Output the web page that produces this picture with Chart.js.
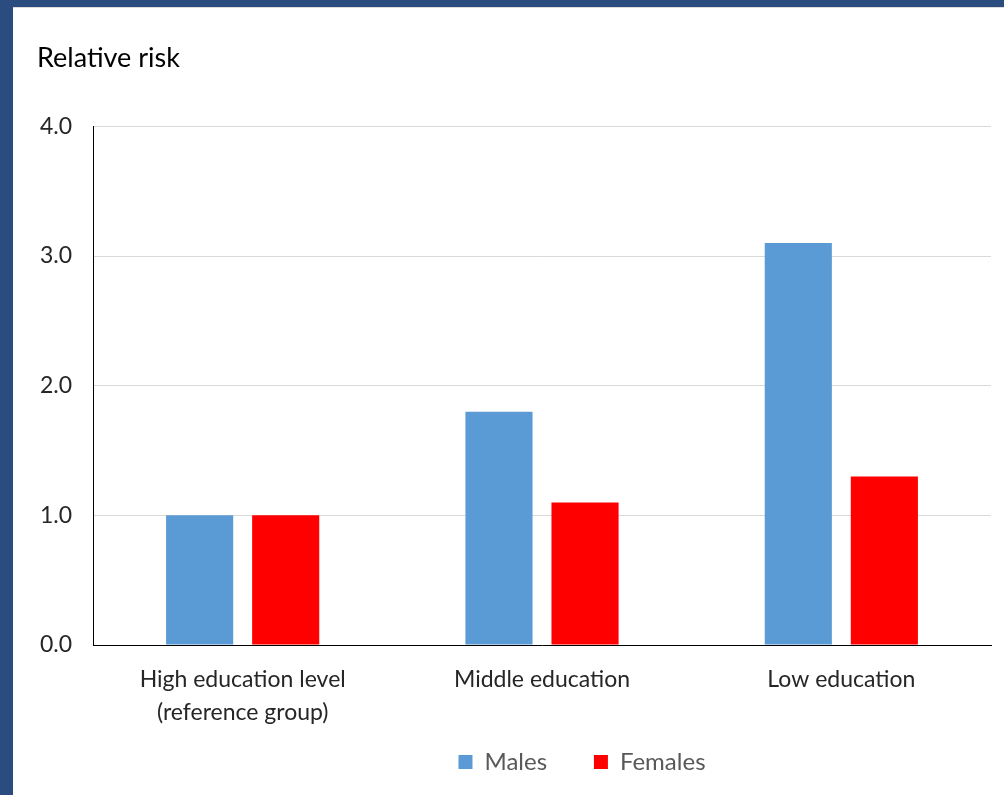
<!DOCTYPE html>
<html>
<head>
<meta charset="utf-8">
<script src="https://cdn.jsdelivr.net/npm/chart.js@4.4.1/dist/chart.umd.min.js"></script>
<style>
  html, body { margin: 0; padding: 0; }
  body { width: 1004px; height: 795px; background: #2b4c7e; position: relative; overflow: hidden; }
  #panel { position: absolute; left: 13px; top: 7px; width: 991px; height: 788px; background: #fff; border-top: 1px solid #dcdcdc; box-sizing: border-box; }
  #chart { display: block; }
</style>
</head>
<body>
<div id="panel"><canvas id="chart" width="991" height="787"></canvas></div>
<script>
// Chart values
const categories = [['High education level', '(reference group)'], 'Middle education', 'Low education'];
const males = [1.0, 1.8, 3.1];
const females = [1.0, 1.1, 1.3];
const yTicks = [0, 1, 2, 3, 4];

const textFont = "Lato, 'Open Sans', sans-serif";

// legend in the original sits a bit right of the canvas centre
const legendShift = {
    id: 'legendShift',
    afterLayout(chart) {
        const lg = chart.legend;
        if (!lg) return;
        lg.left += 68;
        lg.right += 68;
    }
};

const ctx = document.getElementById('chart').getContext('2d');
new Chart(ctx, {
    type: 'bar',
    data: {
        labels: categories,
        datasets: [
            { label: 'Males', data: males, backgroundColor: '#5b9bd5' },
            { label: 'Females', data: females, backgroundColor: '#ff0000' }
        ]
    },
    plugins: [legendShift],
    options: {
        responsive: false,
        animation: false,
        categoryPercentage: 0.575,
        barPercentage: 0.78,
        layout: { padding: { left: 24, right: 13, top: 0, bottom: 11 } },
        scales: {
            x: {
                grid: { display: false, drawTicks: false },
                border: { display: true, color: '#000', width: 1 },
                ticks: {
                    color: '#262626',
                    padding: 18,
                    maxRotation: 0,
                    font: { family: textFont, size: 23, lineHeight: 1.45 }
                },
                // keep the scale tall enough so the two-line label is not clipped
                afterFit: scale => { scale.height = 95; }
            },
            y: {
                min: 0,
                max: 4,
                afterBuildTicks: scale => { scale.ticks = yTicks.map(v => ({ value: v })); },
                grid: {
                    color: c => c.tick && c.tick.value === 0 ? 'rgba(0,0,0,0)' : '#d9d9d9',
                    drawTicks: false
                },
                border: { display: true, color: '#000', width: 1 },
                ticks: {
                    color: '#262626',
                    padding: 21,
                    font: { family: textFont, size: 23 },
                    callback: v => v.toFixed(1)
                },
                afterFit: scale => { scale.width = 56; }
            }
        },
        plugins: {
            title: {
                display: true,
                text: 'Relative risk',
                align: 'start',
                color: '#000',
                font: { family: textFont, size: 27, weight: 'normal', lineHeight: 1.2 },
                padding: { top: 34, bottom: 52 }
            },
            legend: {
                position: 'bottom',
                labels: {
                    boxWidth: 14,
                    boxHeight: 14,
                    padding: 10,
                    color: '#595959',
                    font: { family: textFont, size: 24 },
                    // widen the gap after "Males" like the original legend
                    generateLabels: chart => {
                        const items = Chart.defaults.plugins.legend.labels.generateLabels(chart);
                        items[0].text = items[0].text + '      ';
                        return items;
                    }
                }
            },
            tooltip: { enabled: false }
        }
    }
});
</script>
</body>
</html>
